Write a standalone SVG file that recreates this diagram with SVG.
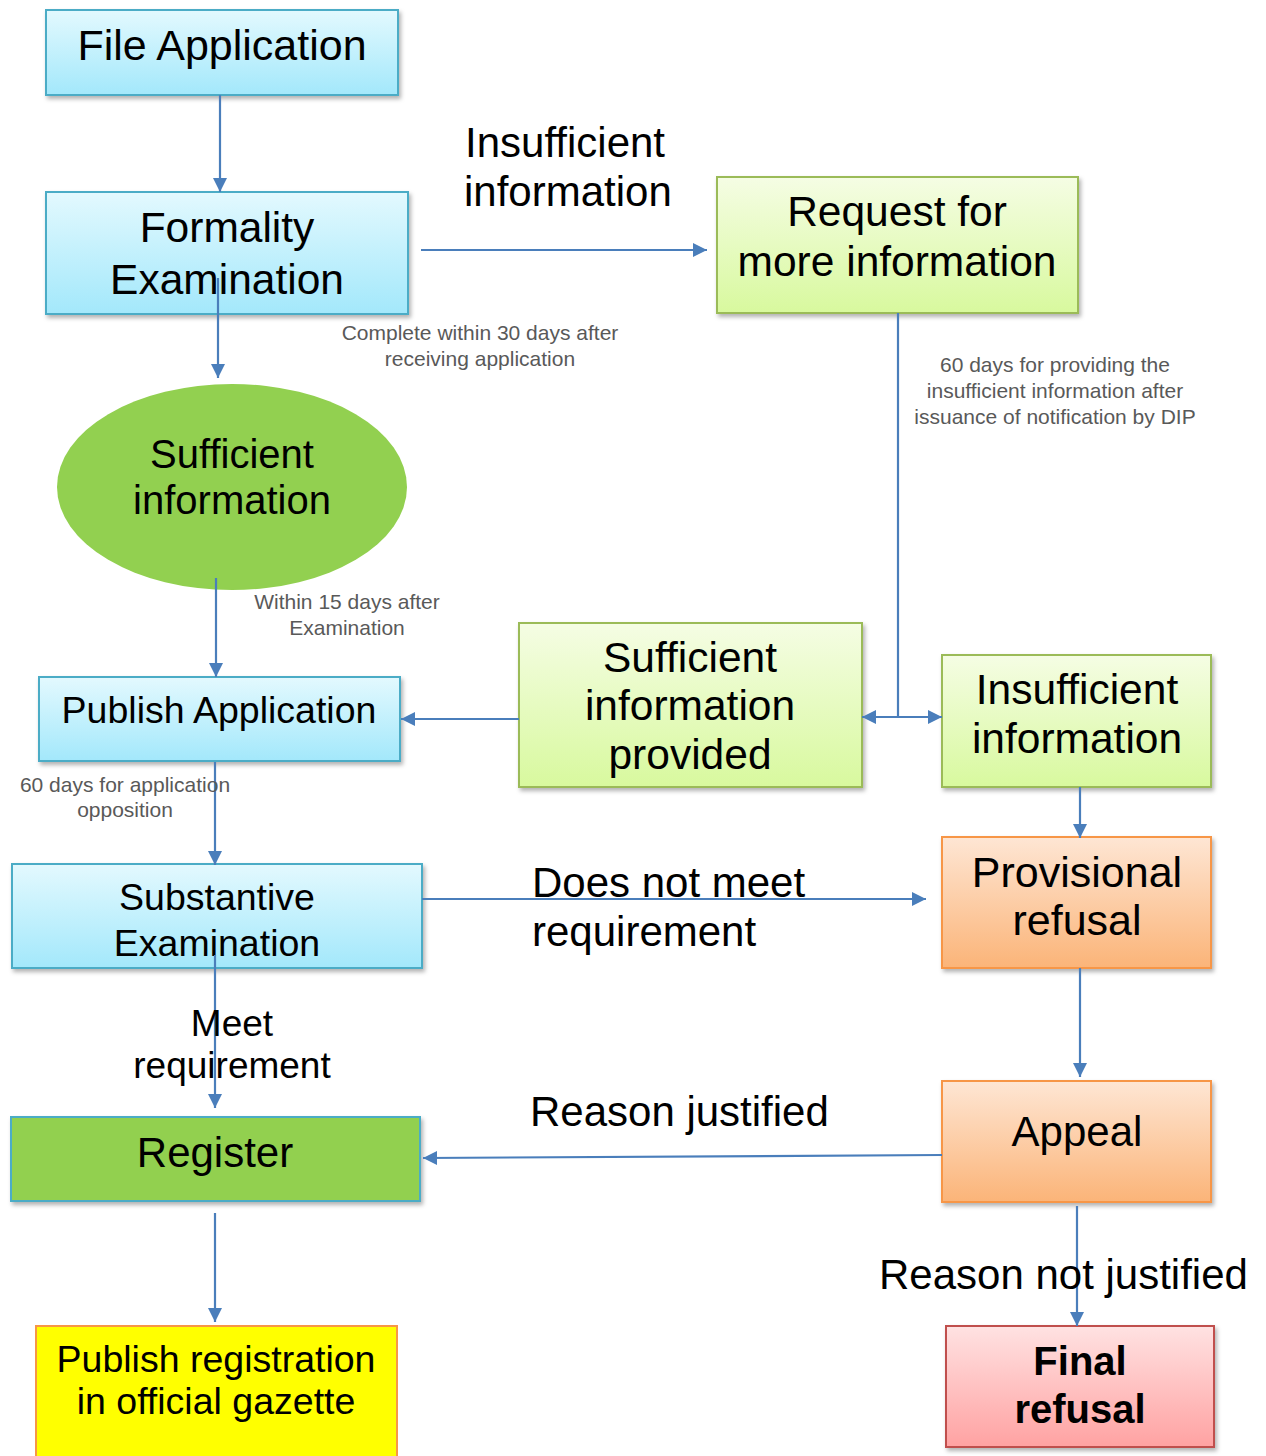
<svg xmlns="http://www.w3.org/2000/svg" width="1266" height="1456" viewBox="0 0 1266 1456">
<defs>
<linearGradient id="gBlue" x1="0" y1="0" x2="0" y2="1"><stop offset="0" stop-color="#e3f9fe"/><stop offset="1" stop-color="#a3e8fb"/></linearGradient>
<linearGradient id="gGreen" x1="0" y1="0" x2="0" y2="1"><stop offset="0" stop-color="#f5fde4"/><stop offset="1" stop-color="#d8f99e"/></linearGradient>
<linearGradient id="gOrange" x1="0" y1="0" x2="0" y2="1"><stop offset="0" stop-color="#fee6d4"/><stop offset="1" stop-color="#fbb478"/></linearGradient>
<linearGradient id="gPink" x1="0" y1="0" x2="0" y2="1"><stop offset="0" stop-color="#ffe2e2"/><stop offset="1" stop-color="#ffa2a2"/></linearGradient>
<filter id="sh" x="-10%" y="-10%" width="120%" height="130%"><feDropShadow dx="2" dy="3" stdDeviation="2" flood-color="#000" flood-opacity="0.3"/></filter>
<marker id="ah" viewBox="0 0 10 10" refX="10" refY="5" markerWidth="6.5" markerHeight="6.8" orient="auto-start-reverse" markerUnits="strokeWidth"><path d="M0,0 L10,5 L0,10 z" fill="#4a7ebb"/></marker>
</defs>
<style>
.t{font-family:"Liberation Sans",Arial,sans-serif;fill:#000;text-anchor:middle}
.s{font-family:"Liberation Sans",Arial,sans-serif;fill:#595959;font-size:21px;text-anchor:middle}
.l{font-family:"Liberation Sans",Arial,sans-serif;fill:#000;font-size:42px}
.blue{fill:url(#gBlue);stroke:#4bacc6;stroke-width:2;filter:url(#sh)}
.green{fill:url(#gGreen);stroke:#9bbb59;stroke-width:2;filter:url(#sh)}
.orange{fill:url(#gOrange);stroke:#f79646;stroke-width:2;filter:url(#sh)}
.c{fill:none;stroke:#4a7ebb;stroke-width:2.2;marker-end:url(#ah)}
</style>
<rect width="1266" height="1456" fill="#fff"/>

<g id="file-application"><rect class="blue" x="46" y="10" width="352" height="85"/><text class="t" font-size="43" x="222" y="60">File Application</text></g>
<g id="formality-examination"><rect class="blue" x="46" y="192" width="362" height="122"/><text class="t" font-size="42.5" x="227" y="242">Formality</text><text class="t" font-size="42.5" x="227" y="294">Examination</text></g>
<g id="request-more-info"><rect class="green" x="717" y="177" width="361" height="136"/><text class="t" font-size="42.5" x="897" y="226">Request for</text><text class="t" font-size="42.5" x="897" y="276">more information</text></g>
<g id="sufficient-information"><ellipse cx="232" cy="487" rx="175" ry="103" fill="#92d050"/><text class="t" font-size="40" x="232" y="468">Sufficient</text><text class="t" font-size="40" x="232" y="514">information</text></g>
<g id="publish-application"><rect class="blue" x="39" y="677" width="361" height="84"/><text class="t" font-size="37.5" x="219" y="723">Publish Application</text></g>
<g id="sufficient-info-provided"><rect class="green" x="519" y="623" width="343" height="164"/><text class="t" font-size="42.5" x="690" y="672">Sufficient</text><text class="t" font-size="42.5" x="690" y="720">information</text><text class="t" font-size="42.5" x="690" y="769">provided</text></g>
<g id="insufficient-information"><rect class="green" x="942" y="655" width="269" height="132"/><text class="t" font-size="42.5" x="1077" y="704">Insufficient</text><text class="t" font-size="42.5" x="1077" y="753">information</text></g>
<g id="substantive-examination"><rect class="blue" x="12" y="864" width="410" height="104"/><text class="t" font-size="37.5" x="217" y="910">Substantive</text><text class="t" font-size="37.5" x="217" y="956">Examination</text></g>
<g id="provisional-refusal"><rect class="orange" x="942" y="837" width="269" height="131"/><text class="t" font-size="43" x="1077" y="887">Provisional</text><text class="t" font-size="43" x="1077" y="935">refusal</text></g>
<g id="register"><rect x="11" y="1117" width="409" height="84" fill="#92d050" stroke="#4bacc6" stroke-width="2" filter="url(#sh)"/><text class="t" font-size="42" x="215" y="1167">Register</text></g>
<g id="appeal"><rect class="orange" x="942" y="1081" width="269" height="121"/><text class="t" font-size="42" x="1077" y="1146">Appeal</text></g>
<g id="publish-registration"><rect x="36" y="1326" width="361" height="140" fill="#ffff00" stroke="#f79646" stroke-width="2"/><text class="t" font-size="37.5" x="216" y="1372">Publish registration</text><text class="t" font-size="37.5" x="216" y="1414">in official gazette</text></g>
<g id="final-refusal"><rect x="946" y="1326" width="268" height="121" fill="url(#gPink)" stroke="#c0504d" stroke-width="2" filter="url(#sh)"/><text class="t" font-size="40" font-weight="bold" x="1080" y="1375">Final</text><text class="t" font-size="40" font-weight="bold" x="1080" y="1423">refusal</text></g>

<g id="connectors">
<path class="c" d="M220,95 V192"/>
<path class="c" d="M421,250 H707"/>
<path class="c" d="M218,278 V378"/>
<path class="c" d="M216,578 V677"/>
<path fill="none" stroke="#4a7ebb" stroke-width="2.2" d="M898,313 V717"/>
<path class="c" style="marker-start:url(#ah)" d="M862,717 H942"/>
<path class="c" d="M519,719 H401"/>
<path class="c" d="M215,762 V865"/>
<path class="c" d="M1080,787 V838"/>
<path class="c" d="M422,899 H926"/>
<path class="c" d="M215,955 V1108"/>
<path class="c" d="M1080,968 V1077"/>
<path class="c" d="M942,1155 L423,1158"/>
<path class="c" d="M215,1213 V1322"/>
<path class="c" d="M1077,1206 V1326"/>
</g>

<g id="labels">
<text class="l" x="465" y="157">Insufficient</text>
<text class="l" x="464" y="206">information</text>
<text class="s" x="480" y="340">Complete within 30 days after</text>
<text class="s" x="480" y="366">receiving application</text>
<text class="s" x="1055" y="372">60 days for providing the</text>
<text class="s" x="1055" y="398">insufficient information after</text>
<text class="s" x="1055" y="424">issuance of notification by DIP</text>
<text class="s" x="347" y="609">Within 15 days after</text>
<text class="s" x="347" y="635">Examination</text>
<text class="s" x="125" y="792">60 days for application</text>
<text class="s" x="125" y="817">opposition</text>
<text class="l" x="532" y="897">Does not meet</text>
<text class="l" x="532" y="946">requirement</text>
<text class="t" font-size="37" x="232" y="1036">Meet</text>
<text class="t" font-size="37" x="232" y="1078">requirement</text>
<text class="l" x="530" y="1126">Reason justified</text>
<text class="l" x="879" y="1289">Reason not justified</text>
</g>
</svg>
